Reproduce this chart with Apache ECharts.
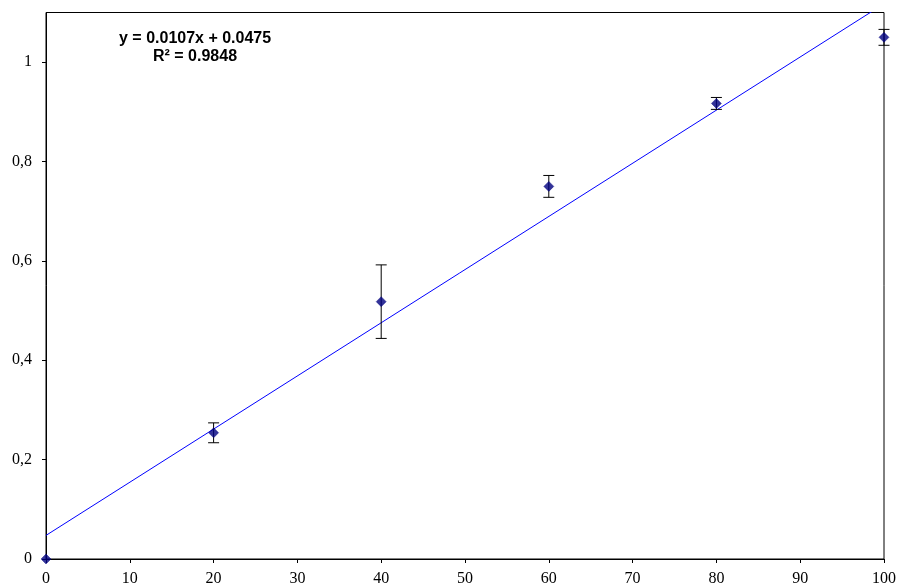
<!DOCTYPE html>
<html>
<head>
<meta charset="utf-8">
<script src="https://cdn.jsdelivr.net/npm/echarts@6/dist/echarts.min.js"></script>
<style>html,body{margin:0;padding:0;background:#fff;}#c{width:899px;height:587px;}</style>
</head>
<body>
<div id="c"></div>
<script>
// Data
const xValues = [0, 20, 40, 60, 80, 100];
const yValues = [0, 0.254, 0.518, 0.750, 0.917, 1.050];
const yErrors = [0, 0.020, 0.074, 0.022, 0.012, 0.016];
const trendSlope = 0.0107;
const trendIntercept = 0.0475;
const trendX = [0, 100];
const yTickValues = [0, 0.2, 0.4, 0.6, 0.8, 1];
const equationText = 'y = 0.0107x + 0.0475';
const r2Text = 'R² = 0.9848';

const points = xValues.map((x, i) => [x, yValues[i]]);
const errData = xValues.map((x, i) => [x, yValues[i], yErrors[i]]);
const trendData = trendX.map(x => [x, trendSlope * x + trendIntercept]);

const chart = echarts.init(document.getElementById('c'), null, {renderer: 'canvas'});
const serif = '"Liberation Serif", "Times New Roman", serif';
chart.setOption({
  animation: false,
  backgroundColor: '#fff',
  grid: {left: 46, right: 13.5, top: 12.5, bottom: 27, show: true, borderColor: '#000', borderWidth: 1, backgroundColor: 'transparent'},
  xAxis: {
    type: 'value', min: 0, max: 100, interval: 10,
    axisLine: {show: true, onZero: false, lineStyle: {color: '#000', width: 1}},
    axisTick: {show: true, inside: false, length: 4, lineStyle: {color: '#000'}},
    axisLabel: {color: '#000', fontFamily: serif, fontSize: 16, margin: 12},
    splitLine: {show: false}
  },
  yAxis: {
    type: 'value', min: 0, max: 1.1,
    axisLine: {show: true, onZero: false, lineStyle: {color: '#000', width: 1}},
    axisTick: {show: true, inside: false, length: 4, lineStyle: {color: '#000'}, customValues: yTickValues},
    axisLabel: {color: '#000', fontFamily: serif, fontSize: 16, margin: 14, customValues: yTickValues,
      formatter: v => String(Math.round(v * 10) / 10).replace('.', ',')},
    splitLine: {show: false}
  },
  graphic: [
    {type: 'text', left: 119, top: 31, style: {text: equationText, font: 'bold 16px "Liberation Sans", Arial, sans-serif', fill: '#000'}},
    {type: 'text', left: 153, top: 49, style: {text: r2Text, font: 'bold 16px "Liberation Sans", Arial, sans-serif', fill: '#000'}}
  ],
  series: [
    {
      type: 'line', data: trendData, showSymbol: false, symbol: 'none', clip: true,
      lineStyle: {color: '#0000FF', width: 1}, z: 2, silent: true
    },
    {
      type: 'custom', clip: false, z: 3, silent: true,
      data: errData,
      renderItem: function (params, api) {
        const x = api.value(0), y = api.value(1), e = api.value(2);
        if (!e) return null;
        const top = api.coord([x, y + e]);
        const bot = api.coord([x, y - e]);
        const hw = 5.5;
        const st = {stroke: '#000', lineWidth: 1};
        return {type: 'group', children: [
          {type: 'line', shape: {x1: top[0], y1: top[1], x2: bot[0], y2: bot[1]}, style: st},
          {type: 'line', shape: {x1: top[0] - hw, y1: top[1], x2: top[0] + hw, y2: top[1]}, style: st},
          {type: 'line', shape: {x1: bot[0] - hw, y1: bot[1], x2: bot[0] + hw, y2: bot[1]}, style: st}
        ]};
      }
    },
    {
      type: 'scatter', data: points, symbol: 'diamond', symbolSize: 10, clip: false, z: 4,
      itemStyle: {color: '#000080', borderColor: '#000080', borderWidth: 0.5}
    }
  ]
});
</script>
</body>
</html>
